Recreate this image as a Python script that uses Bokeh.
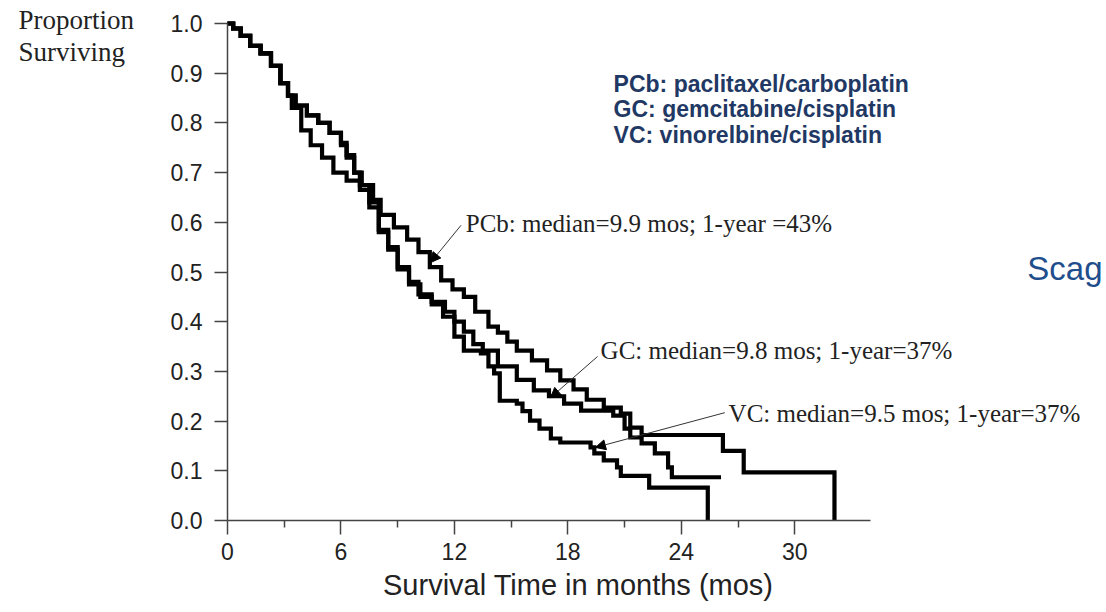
from bokeh.plotting import figure
from bokeh.models import (FixedTicker, Label, Arrow, NormalHead, Range1d, LinearAxis,
                          PrintfTickFormatter, ColumnDataSource)
from bokeh.embed import file_html
from bokeh.resources import INLINE

# ---------------- data ----------------
common_t = [0, 0.3, 0.7, 1.2, 1.75, 2.3, 2.8, 3.2]
common_s = [1.0, 0.99, 0.975, 0.955, 0.94, 0.915, 0.88, 0.855]

pcb_t = [3.6, 4.2, 4.8, 5.4, 6.0, 6.3, 6.7, 7.1, 7.7, 8.1, 8.8, 9.5, 10.1, 10.7,
         11.3, 11.9, 12.5, 13.1, 13.8, 14.3, 14.8, 15.3, 16.1, 16.9, 17.6, 18.3,
         19.0, 19.9, 20.8, 21.3, 21.9, 26.2, 27.3, 32.1]
pcb_s = [0.835, 0.815, 0.80, 0.78, 0.76, 0.735, 0.70, 0.675, 0.645, 0.615, 0.59,
         0.565, 0.54, 0.51, 0.483, 0.465, 0.45, 0.42, 0.39, 0.378, 0.36, 0.342,
         0.322, 0.302, 0.282, 0.264, 0.243, 0.227, 0.215, 0.187, 0.172, 0.14,
         0.097, 0.0]

gc_t = [3.4, 3.9, 4.4, 5.0, 5.6, 6.3, 7.0, 7.5, 8.0, 8.5, 9.0, 9.6, 10.1, 10.8,
        11.5, 12.0, 12.5, 13.0, 13.5, 14.3, 15.3, 16.2, 17.0, 17.8, 18.7, 20.4,
        21.0, 21.3, 21.9, 22.6, 23.3, 23.5, 26.1]
gc_s = [0.83, 0.785, 0.755, 0.73, 0.70, 0.684, 0.665, 0.63, 0.58, 0.545, 0.51,
        0.48, 0.455, 0.44, 0.42, 0.40, 0.38, 0.355, 0.342, 0.31, 0.283, 0.262,
        0.25, 0.235, 0.221, 0.211, 0.185, 0.167, 0.155, 0.135, 0.107, 0.087,
        0.087]

vc_t = [3.6, 4.2, 4.8, 5.4, 6.0, 6.3, 6.7, 7.0, 7.5, 8.0, 8.5, 9.0, 9.6, 10.2,
        10.8, 11.4, 12.0, 12.5, 13.4, 13.8, 14.1, 14.4, 15.3, 15.6, 16.0, 16.5,
        17.1, 17.6, 19.2, 19.4, 19.9, 20.6, 20.8, 22.3, 25.4]
vc_s = [0.835, 0.815, 0.80, 0.78, 0.755, 0.73, 0.70, 0.675, 0.64, 0.585, 0.55,
        0.505, 0.475, 0.45, 0.435, 0.41, 0.37, 0.342, 0.336, 0.31, 0.296, 0.241,
        0.235, 0.22, 0.201, 0.185, 0.165, 0.157, 0.147, 0.135, 0.121, 0.107,
        0.09, 0.066, 0.0]

x_ticks = [0, 6, 12, 18, 24, 30]
x_minor = [3, 9, 15, 21, 27]
y_ticks = [0.0, 0.1, 0.2, 0.3, 0.4, 0.5, 0.6, 0.7, 0.8, 0.9, 1.0]

legend_lines = ["PCb: paclitaxel/carboplatin",
                "GC:  gemcitabine/cisplatin",
                "VC:   vinorelbine/cisplatin"]
ann_texts = ["PCb: median=9.9 mos; 1-year =43%",
             "GC: median=9.8 mos; 1-year=37%",
             "VC: median=9.5 mos; 1-year=37%"]
# ---------------------------------------------------------------

# frame covers the whole canvas; axes are pinned at x=0 / y=0
p = figure(width=1106, height=612, x_range=Range1d(-12.005, 46.486),
           y_range=Range1d(-0.1851, 1.0463), x_axis_type=None, y_axis_type=None,
           output_backend="svg", toolbar_location=None, min_border=0)
p.outline_line_color = None
p.background_fill_color = "white"
p.border_fill_color = "white"

for t, s in ((pcb_t, pcb_s), (gc_t, gc_s), (vc_t, vc_s)):
    src = ColumnDataSource(dict(t=common_t + t, s=common_s + s))
    p.step("t", "s", source=src, mode="after", line_width=4.2, line_color="black",
           line_join="miter")

AX = "#444444"
ax = LinearAxis(fixed_location=0, bounds=(0, 1.0))
ax.ticker = FixedTicker(ticks=y_ticks)
ax.formatter = PrintfTickFormatter(format="%.1f")
ax.major_label_text_font = "Liberation Sans"
ax.major_label_text_font_size = "23px"
ax.major_label_text_color = "#222222"
ax.major_tick_out = 13
ax.major_tick_in = 0
ax.minor_tick_line_color = None
ax.axis_line_color = AX
ax.axis_line_width = 1.5
ax.major_tick_line_color = AX
ax.major_tick_line_width = 1.5
ax.major_label_standoff = 12
p.add_layout(ax, "left")

bx = LinearAxis(fixed_location=0, bounds=(0, 34))
bx.ticker = FixedTicker(ticks=x_ticks, minor_ticks=x_minor)
bx.major_label_text_font = "Liberation Sans"
bx.major_label_text_font_size = "23px"
bx.major_label_text_color = "#222222"
bx.major_tick_out = 14
bx.major_tick_in = 0
bx.minor_tick_out = 7
bx.minor_tick_in = 0
bx.axis_line_color = AX
bx.axis_line_width = 1.5
bx.major_tick_line_color = AX
bx.major_tick_line_width = 1.5
bx.minor_tick_line_color = AX
bx.minor_tick_line_width = 1.5
bx.major_label_standoff = 8
p.add_layout(bx, "below")

# x title
p.add_layout(Label(x=18.55, y=-0.13, text="Survival Time in months (mos)",
                   text_font="Liberation Sans", text_font_size="29px",
                   text_align="center", text_baseline="middle", text_color="#222222"))

# y title (two lines, serif)
for txt, yy in (("Proportion", 1.008), ("Surviving", 0.942)):
    p.add_layout(Label(x=-11.05, y=yy, text=txt, text_font="Liberation Serif",
                       text_font_size="27px", text_baseline="middle",
                       text_color="#222222"))

# blue legend text
for txt, yy in zip(legend_lines, [0.879, 0.827, 0.775]):
    p.add_layout(Label(x=20.42, y=yy, text=txt, text_font="Liberation Sans",
                       text_font_size="23px", text_font_style="bold",
                       text_baseline="middle", text_color="#1f3864"))

# annotations with arrows
ann_pos = [(12.6, 0.598), (19.73, 0.342), (26.5, 0.215)]
arrow_pos = [(12.35, 0.594, 10.74, 0.519), (19.57, 0.33, 17.08, 0.247),
             (26.3, 0.217, 19.46, 0.147)]
for txt, (xx, yy) in zip(ann_texts, ann_pos):
    p.add_layout(Label(x=xx, y=yy, text=txt, text_font="Liberation Serif",
                       text_font_size="25px", text_baseline="middle",
                       text_color="#222222"))
for (x0, y0, x1, y1) in arrow_pos:
    p.add_layout(Arrow(end=NormalHead(size=10, fill_color="black", line_color="black"),
                       x_start=x0, y_start=y0, x_end=x1, y_end=y1,
                       line_width=1, line_color="#333333"))

# partially visible blue word at right edge
p.add_layout(Label(x=42.3, y=0.507, text="Scag", text_font="Liberation Sans",
                   text_font_size="33px", text_baseline="alphabetic",
                   text_color="#1f4e8c"))

open("out.html", "w").write(file_html(p, INLINE))
